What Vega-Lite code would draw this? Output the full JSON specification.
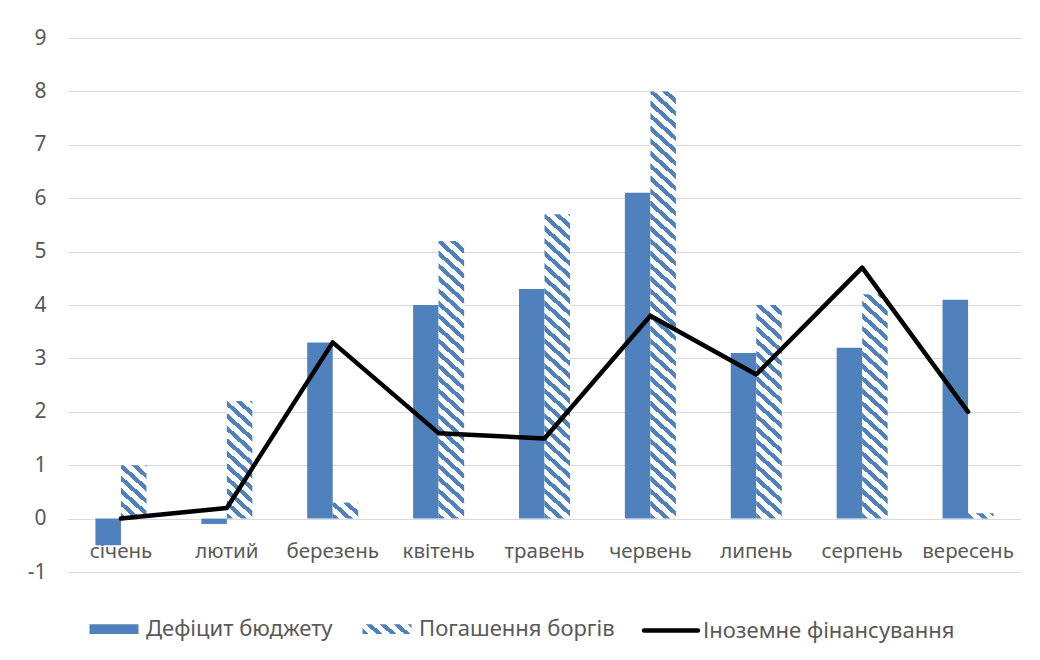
{
  "$schema": "https://vega.github.io/schema/vega-lite/v6.json",
  "width": 953,
  "height": 534,
  "autosize": {"type": "none"},
  "padding": {"left": 68, "top": 38, "right": 19, "bottom": 88},
  "background": "#ffffff",
  "params": [
    {
      "name": "hatchStops",
      "value": [
        {"offset":0,"color":"#4f81bd"},{"offset":0.01125,"color":"#4f81bd"},{"offset":0.01125,"color":"#fff"},{"offset":0.025,"color":"#fff"},
        {"offset":0.025,"color":"#4f81bd"},{"offset":0.03625,"color":"#4f81bd"},{"offset":0.03625,"color":"#fff"},{"offset":0.05,"color":"#fff"},
        {"offset":0.05,"color":"#4f81bd"},{"offset":0.06125,"color":"#4f81bd"},{"offset":0.06125,"color":"#fff"},{"offset":0.075,"color":"#fff"},
        {"offset":0.075,"color":"#4f81bd"},{"offset":0.08625,"color":"#4f81bd"},{"offset":0.08625,"color":"#fff"},{"offset":0.1,"color":"#fff"},
        {"offset":0.1,"color":"#4f81bd"},{"offset":0.11125,"color":"#4f81bd"},{"offset":0.11125,"color":"#fff"},{"offset":0.125,"color":"#fff"},
        {"offset":0.125,"color":"#4f81bd"},{"offset":0.13625,"color":"#4f81bd"},{"offset":0.13625,"color":"#fff"},{"offset":0.15,"color":"#fff"},
        {"offset":0.15,"color":"#4f81bd"},{"offset":0.16125,"color":"#4f81bd"},{"offset":0.16125,"color":"#fff"},{"offset":0.175,"color":"#fff"},
        {"offset":0.175,"color":"#4f81bd"},{"offset":0.18625,"color":"#4f81bd"},{"offset":0.18625,"color":"#fff"},{"offset":0.2,"color":"#fff"},
        {"offset":0.2,"color":"#4f81bd"},{"offset":0.21125,"color":"#4f81bd"},{"offset":0.21125,"color":"#fff"},{"offset":0.225,"color":"#fff"},
        {"offset":0.225,"color":"#4f81bd"},{"offset":0.23625,"color":"#4f81bd"},{"offset":0.23625,"color":"#fff"},{"offset":0.25,"color":"#fff"},
        {"offset":0.25,"color":"#4f81bd"},{"offset":0.26125,"color":"#4f81bd"},{"offset":0.26125,"color":"#fff"},{"offset":0.275,"color":"#fff"},
        {"offset":0.275,"color":"#4f81bd"},{"offset":0.28625,"color":"#4f81bd"},{"offset":0.28625,"color":"#fff"},{"offset":0.3,"color":"#fff"},
        {"offset":0.3,"color":"#4f81bd"},{"offset":0.31125,"color":"#4f81bd"},{"offset":0.31125,"color":"#fff"},{"offset":0.325,"color":"#fff"},
        {"offset":0.325,"color":"#4f81bd"},{"offset":0.33625,"color":"#4f81bd"},{"offset":0.33625,"color":"#fff"},{"offset":0.35,"color":"#fff"},
        {"offset":0.35,"color":"#4f81bd"},{"offset":0.36125,"color":"#4f81bd"},{"offset":0.36125,"color":"#fff"},{"offset":0.375,"color":"#fff"},
        {"offset":0.375,"color":"#4f81bd"},{"offset":0.38625,"color":"#4f81bd"},{"offset":0.38625,"color":"#fff"},{"offset":0.4,"color":"#fff"},
        {"offset":0.4,"color":"#4f81bd"},{"offset":0.41125,"color":"#4f81bd"},{"offset":0.41125,"color":"#fff"},{"offset":0.425,"color":"#fff"},
        {"offset":0.425,"color":"#4f81bd"},{"offset":0.43625,"color":"#4f81bd"},{"offset":0.43625,"color":"#fff"},{"offset":0.45,"color":"#fff"},
        {"offset":0.45,"color":"#4f81bd"},{"offset":0.46125,"color":"#4f81bd"},{"offset":0.46125,"color":"#fff"},{"offset":0.475,"color":"#fff"},
        {"offset":0.475,"color":"#4f81bd"},{"offset":0.48625,"color":"#4f81bd"},{"offset":0.48625,"color":"#fff"},{"offset":0.5,"color":"#fff"},
        {"offset":0.5,"color":"#4f81bd"},{"offset":0.51125,"color":"#4f81bd"},{"offset":0.51125,"color":"#fff"},{"offset":0.525,"color":"#fff"},
        {"offset":0.525,"color":"#4f81bd"},{"offset":0.53625,"color":"#4f81bd"},{"offset":0.53625,"color":"#fff"},{"offset":0.55,"color":"#fff"},
        {"offset":0.55,"color":"#4f81bd"},{"offset":0.56125,"color":"#4f81bd"},{"offset":0.56125,"color":"#fff"},{"offset":0.575,"color":"#fff"},
        {"offset":0.575,"color":"#4f81bd"},{"offset":0.58625,"color":"#4f81bd"},{"offset":0.58625,"color":"#fff"},{"offset":0.6,"color":"#fff"},
        {"offset":0.6,"color":"#4f81bd"},{"offset":0.61125,"color":"#4f81bd"},{"offset":0.61125,"color":"#fff"},{"offset":0.625,"color":"#fff"},
        {"offset":0.625,"color":"#4f81bd"},{"offset":0.63625,"color":"#4f81bd"},{"offset":0.63625,"color":"#fff"},{"offset":0.65,"color":"#fff"},
        {"offset":0.65,"color":"#4f81bd"},{"offset":0.66125,"color":"#4f81bd"},{"offset":0.66125,"color":"#fff"},{"offset":0.675,"color":"#fff"},
        {"offset":0.675,"color":"#4f81bd"},{"offset":0.68625,"color":"#4f81bd"},{"offset":0.68625,"color":"#fff"},{"offset":0.7,"color":"#fff"},
        {"offset":0.7,"color":"#4f81bd"},{"offset":0.71125,"color":"#4f81bd"},{"offset":0.71125,"color":"#fff"},{"offset":0.725,"color":"#fff"},
        {"offset":0.725,"color":"#4f81bd"},{"offset":0.73625,"color":"#4f81bd"},{"offset":0.73625,"color":"#fff"},{"offset":0.75,"color":"#fff"},
        {"offset":0.75,"color":"#4f81bd"},{"offset":0.76125,"color":"#4f81bd"},{"offset":0.76125,"color":"#fff"},{"offset":0.775,"color":"#fff"},
        {"offset":0.775,"color":"#4f81bd"},{"offset":0.78625,"color":"#4f81bd"},{"offset":0.78625,"color":"#fff"},{"offset":0.8,"color":"#fff"},
        {"offset":0.8,"color":"#4f81bd"},{"offset":0.81125,"color":"#4f81bd"},{"offset":0.81125,"color":"#fff"},{"offset":0.825,"color":"#fff"},
        {"offset":0.825,"color":"#4f81bd"},{"offset":0.83625,"color":"#4f81bd"},{"offset":0.83625,"color":"#fff"},{"offset":0.85,"color":"#fff"},
        {"offset":0.85,"color":"#4f81bd"},{"offset":0.86125,"color":"#4f81bd"},{"offset":0.86125,"color":"#fff"},{"offset":0.875,"color":"#fff"},
        {"offset":0.875,"color":"#4f81bd"},{"offset":0.88625,"color":"#4f81bd"},{"offset":0.88625,"color":"#fff"},{"offset":0.9,"color":"#fff"},
        {"offset":0.9,"color":"#4f81bd"},{"offset":0.91125,"color":"#4f81bd"},{"offset":0.91125,"color":"#fff"},{"offset":0.925,"color":"#fff"},
        {"offset":0.925,"color":"#4f81bd"},{"offset":0.93625,"color":"#4f81bd"},{"offset":0.93625,"color":"#fff"},{"offset":0.95,"color":"#fff"},
        {"offset":0.95,"color":"#4f81bd"},{"offset":0.96125,"color":"#4f81bd"},{"offset":0.96125,"color":"#fff"},{"offset":0.975,"color":"#fff"},
        {"offset":0.975,"color":"#4f81bd"},{"offset":0.98625,"color":"#4f81bd"},{"offset":0.98625,"color":"#fff"},{"offset":1,"color":"#fff"}
      ]
    }
  ],
  "data": {
    "values": [
      {"month": "січень", "series": "Дефіцит бюджету", "value": -0.5},
      {"month": "лютий", "series": "Дефіцит бюджету", "value": -0.1},
      {"month": "березень", "series": "Дефіцит бюджету", "value": 3.3},
      {"month": "квітень", "series": "Дефіцит бюджету", "value": 4.0},
      {"month": "травень", "series": "Дефіцит бюджету", "value": 4.3},
      {"month": "червень", "series": "Дефіцит бюджету", "value": 6.1},
      {"month": "липень", "series": "Дефіцит бюджету", "value": 3.1},
      {"month": "серпень", "series": "Дефіцит бюджету", "value": 3.2},
      {"month": "вересень", "series": "Дефіцит бюджету", "value": 4.1},
      {"month": "січень", "series": "Погашення боргів", "value": 1.0},
      {"month": "лютий", "series": "Погашення боргів", "value": 2.2},
      {"month": "березень", "series": "Погашення боргів", "value": 0.3},
      {"month": "квітень", "series": "Погашення боргів", "value": 5.2},
      {"month": "травень", "series": "Погашення боргів", "value": 5.7},
      {"month": "червень", "series": "Погашення боргів", "value": 8.0},
      {"month": "липень", "series": "Погашення боргів", "value": 4.0},
      {"month": "серпень", "series": "Погашення боргів", "value": 4.2},
      {"month": "вересень", "series": "Погашення боргів", "value": 0.1},
      {"month": "січень", "series": "Іноземне фінансування", "value": 0},
      {"month": "лютий", "series": "Іноземне фінансування", "value": 0.2},
      {"month": "березень", "series": "Іноземне фінансування", "value": 3.3},
      {"month": "квітень", "series": "Іноземне фінансування", "value": 1.6},
      {"month": "травень", "series": "Іноземне фінансування", "value": 1.5},
      {"month": "червень", "series": "Іноземне фінансування", "value": 3.8},
      {"month": "липень", "series": "Іноземне фінансування", "value": 2.7},
      {"month": "серпень", "series": "Іноземне фінансування", "value": 4.7},
      {"month": "вересень", "series": "Іноземне фінансування", "value": 2.0}
    ]
  },
  "encoding": {
    "x": {
      "field": "month",
      "type": "nominal",
      "sort": null,
      "scale": {"type": "band", "paddingInner": 0.518, "paddingOuter": 0.259},
      "axis": {
        "title": null,
        "orient": "bottom",
        "offset": -53.4,
        "domain": false,
        "ticks": false,
        "grid": false,
        "labelAngle": 0,
        "labelPadding": 23,
        "labelFontSize": 20.5,
        "labelColor": "#595959",
        "labelOverlap": false
      }
    },
    "y": {
      "field": "value",
      "type": "quantitative",
      "stack": null,
      "scale": {"domain": [-1, 9], "nice": false, "zero": false},
      "axis": {
        "title": null,
        "values": [-1, 0, 1, 2, 3, 4, 5, 6, 7, 8, 9],
        "labelExpr": "'' + datum.value",
        "domain": false,
        "ticks": false,
        "grid": true,
        "gridColor": "#d9d9d9",
        "gridWidth": 1,
        "labelPadding": 22,
        "labelFontSize": 21,
        "labelColor": "#595959"
      }
    }
  },
  "layer": [
    {
      "transform": [{"filter": "datum.series === 'Дефіцит бюджету'"}],
      "mark": {"type": "bar"},
      "encoding": {
        "xOffset": {
          "field": "series",
          "type": "nominal",
          "scale": {"domain": ["Дефіцит бюджету", "Погашення боргів"], "paddingInner": 0, "paddingOuter": 0}
        },
        "color": {
          "field": "series",
          "type": "nominal",
          "scale": {
            "domain": ["Дефіцит бюджету", "Погашення боргів", "Іноземне фінансування"],
            "range": ["#4f81bd", {"expr": "{gradient: 'linear', x1: 0, y1: 1, x2: 10.8, y2: -1.4, stops: hatchStops}"}, "#000000"]
          },
          "legend": {
            "orient": "bottom",
            "direction": "horizontal",
            "title": null,
            "offset": 11,
            "padding": 19,
            "columnPadding": 20,
            "labelOffset": 5,
            "symbolType": "M-1,-0.2H1V0.2H-1Z",
            "symbolSize": 2401,
            "labelFont": "Noto Sans",
            "labelFontSize": 22,
            "labelColor": "#595959",
            "labelLimit": 0,
            "encode": {
              "symbols": {
                "update": {
                  "shape": {"signal": "datum.value === 'Іноземне фінансування' ? 'M-1.1,0H1.1' : 'M-1,-0.2H1V0.2H-1Z'"},
                  "stroke": {"signal": "datum.value === 'Іноземне фінансування' ? '#000000' : 'transparent'"},
                  "strokeWidth": {"value": 4.5},
                  "strokeCap": {"value": "round"},
                  "opacity": {"value": 1}
                }
              }
            }
          }
        }
      }
    },
    {
      "transform": [{"filter": "datum.series === 'Погашення боргів'"}],
      "mark": {
        "type": "bar",
        "fill": {"expr": "{gradient: 'linear', x1: 0, y1: 1, x2: 11475 / (526.7 + pow(datum.value * 53.4, 2)), y2: 1 - 500 * datum.value * 53.4 / (526.7 + pow(datum.value * 53.4, 2)), stops: hatchStops}"}
      },
      "encoding": {
        "xOffset": {
          "field": "series",
          "type": "nominal",
          "scale": {"domain": ["Дефіцит бюджету", "Погашення боргів"], "paddingInner": 0, "paddingOuter": 0}
        }
      }
    },
    {
      "transform": [{"filter": "datum.series === 'Іноземне фінансування'"}],
      "mark": {"type": "line", "color": "#000000", "strokeWidth": 4.5, "strokeCap": "round", "strokeJoin": "round"},
      "encoding": {}
    }
  ],
  "config": {
    "view": {"stroke": null},
    "font": "Noto Sans",
    "axis": {"labelFont": "Noto Sans"},
    "legend": {"layout": {"anchor": "start"}}
  }
}
